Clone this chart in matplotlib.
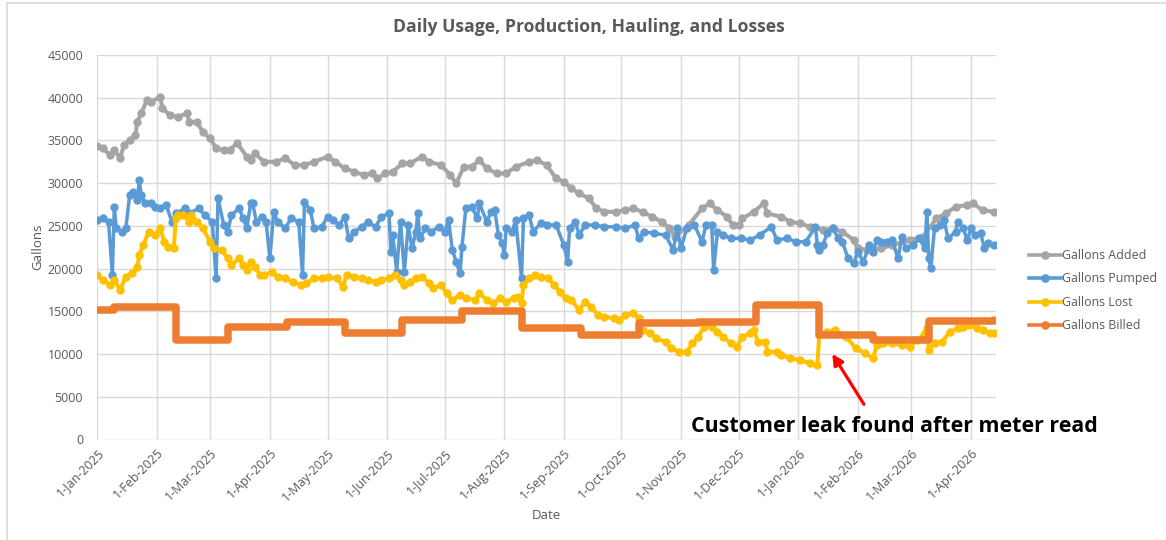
import numpy as np
import matplotlib
matplotlib.use("Agg")
import matplotlib.pyplot as plt
import matplotlib.dates as mdates
from matplotlib.ticker import FuncFormatter, MultipleLocator
from matplotlib.lines import Line2D

plt.rcParams['font.family'] = ['Open Sans', 'DejaVu Sans']

START = np.datetime64('2025-01-01')

# ---- data (day offset from 1-Jan-2025, gallons) ----
added_days = [0, 3, 7, 9, 12, 14, 17, 20, 21, 23, 26, 28, 33, 34, 38, 42, 47, 48, 52, 55, 59, 62, 66, 69,
              73, 78, 80, 82, 87, 93, 98, 103, 108, 113, 120, 124, 129, 134, 139, 143, 146, 150, 154, 159,
              163, 169, 173, 179, 184, 187, 191, 195, 199, 203, 208, 213, 218, 225, 229, 234, 239, 243, 247,
              251, 256, 260, 264, 270, 275, 279, 284, 289, 294, 298, 301, 308, 315, 319, 323, 328, 331, 334,
              336, 342, 347, 349, 356, 361, 366, 371, 378, 383, 388, 394, 396, 401, 408, 414, 423, 430, 437,
              442, 447, 453, 456, 461, 467]
added_vals = [34400, 34070, 33290, 33870, 32900, 34460, 35040, 35620, 37180, 38170, 39720, 39520, 40100, 38750,
              37970, 37770, 38170, 37180, 37180, 36010, 35240, 34070, 33870, 33870, 34690, 33090, 32700, 33500,
              32500, 32500, 32900, 32120, 32120, 32500, 33090, 32500, 31730, 31340, 30950, 31140, 30560, 31140,
              31340, 32310, 32310, 33090, 32500, 32120, 30950, 29980, 31920, 31920, 32700, 31730, 31140, 31140,
              31920, 32500, 32700, 32120, 30560, 30160, 29390, 28800, 28220, 27050, 26650, 26650, 26850, 27050,
              26650, 26070, 25480, 24710, 23730, 25100, 27050, 27630, 26850, 26070, 25100, 25100, 25880, 26650,
              27630, 26460, 26070, 25480, 25300, 24900, 24510, 24710, 24320, 23340, 22370, 22200, 22370, 22750,
              23340, 23730, 25880, 26460, 27240, 27440, 27630, 26850, 26650]

pumped_days = [0, 3, 6, 8, 9, 10, 13, 15, 17, 19, 21, 22, 23, 25, 28, 30, 33, 36, 39, 41, 46, 48, 53, 56, 60,
               62, 63, 66, 68, 70, 74, 76, 78, 80, 81, 83, 86, 88, 90, 92, 94, 98, 101, 105, 107, 108, 111, 113,
               117, 120, 123, 126, 129, 131, 134, 138, 141, 145, 148, 152, 153, 154, 156, 158, 160, 162, 164,
               166, 167, 168, 171, 174, 178, 181, 183, 185, 187, 189, 190, 192, 195, 198, 199, 203, 205, 207,
               209, 211, 212, 213, 216, 218, 221, 222, 225, 227, 231, 234, 239, 243, 245, 246, 249, 251, 254,
               259, 264, 270, 275, 280, 282, 285, 290, 296, 300, 302, 304, 307, 311, 315, 317, 320, 321, 323,
               326, 330, 335, 340, 345, 351, 354, 359, 364, 369, 374, 375, 376, 378, 380, 383, 386, 388, 391,
               394, 396, 399, 402, 404, 406, 408, 411, 414, 417, 419, 421, 425, 428, 431, 432, 433, 434, 436,
               439, 441, 443, 447, 448, 451, 453, 455, 457, 460, 462, 464, 467]
pumped_vals = [25680, 25880, 25480, 19250, 27240, 24710, 24320, 24710, 28600, 28990, 28020, 30360, 28600, 27630,
               27630, 27240, 27050, 27440, 25480, 26460, 27050, 26460, 27050, 26270, 25480, 18860, 28220, 25100,
               24320, 26270, 27050, 25880, 24710, 27630, 27630, 25480, 26070, 25480, 21200, 26650, 25480, 24710,
               25880, 25480, 19250, 27820, 26850, 24710, 24900, 26070, 25680, 25100, 26070, 23540, 24320, 24900,
               25480, 24900, 26070, 26460, 21970, 23930, 19630, 25480, 19630, 25100, 22370, 24320, 26460, 23540,
               24710, 24320, 24900, 24320, 25680, 22170, 20800, 19440, 22560, 27050, 27240, 25880, 27630, 25480,
               26650, 26850, 23930, 22950, 21580, 24710, 24320, 25680, 18860, 25880, 26270, 24320, 25300, 25100,
               25100, 22760, 20800, 24710, 25480, 23930, 25100, 25100, 24900, 24900, 24710, 25100, 23540, 24320,
               24120, 23930, 22170, 24710, 22370, 24710, 25100, 23140, 25100, 25100, 19830, 24320, 23930, 23540,
               23540, 23340, 23930, 24900, 23340, 23540, 23140, 23140, 24900, 22760, 22170, 22760, 24120, 24710,
               23540, 23140, 21200, 20620, 21970, 20800, 22760, 21970, 23340, 23140, 23140, 23340, 21200, 23730,
               22370, 22760, 23540, 22370, 26650, 21200, 20030, 24710, 25100, 25680, 23540, 24320, 25480, 24710,
               23340, 24710, 23930, 24120, 22370, 22950, 22760]

lost_days = [0, 3, 7, 9, 12, 15, 18, 21, 22, 24, 27, 30, 33, 35, 37, 40, 41, 42, 45, 48, 49, 52, 55, 59, 61,
             65, 68, 70, 74, 76, 78, 80, 82, 85, 87, 91, 94, 98, 102, 106, 109, 113, 117, 120, 125, 128, 130,
             134, 138, 141, 145, 148, 152, 155, 158, 160, 163, 166, 169, 173, 175, 179, 182, 185, 189, 192, 197,
             199, 203, 206, 210, 213, 217, 219, 221, 222, 225, 228, 231, 235, 238, 241, 244, 247, 251, 254, 257,
             261, 264, 269, 272, 275, 279, 282, 284, 288, 291, 296, 299, 303, 307, 310, 313, 316, 320, 323, 326,
             330, 333, 336, 340, 342, 344, 348, 349, 354, 356, 361, 366, 371, 375, 376, 380, 384, 390, 395, 400,
             404, 406, 409, 414, 419, 423, 427, 431, 432, 433, 436, 440, 444, 448, 451, 454, 458, 461, 465, 467]
lost_vals = [19250, 18660, 18080, 18660, 17490, 19050, 19440, 20220, 21580, 22760, 24320, 23930, 24710, 23140,
             22560, 22370, 25880, 26270, 26270, 25480, 26270, 25480, 24710, 23140, 22370, 22170, 21200, 20420,
             21200, 20420, 19830, 20800, 20220, 19250, 19250, 19630, 19050, 18860, 18460, 18080, 18280, 18860,
             18860, 19050, 18860, 17880, 19250, 19050, 18860, 18660, 18460, 18660, 18860, 19250, 18700, 18080,
             18460, 18860, 19050, 18280, 17690, 18080, 17110, 16320, 16910, 16520, 16320, 17110, 16320, 15940,
             16520, 16120, 16520, 16710, 15940, 18080, 18860, 19250, 19050, 18860, 18080, 17290, 16520, 16320,
             15150, 16120, 15540, 14570, 14370, 14180, 13980, 14570, 14760, 14180, 12810, 12430, 11840, 11440,
             10670, 10270, 10270, 11260, 12030, 13200, 13200, 12620, 12030, 11260, 10860, 12030, 12430, 12810,
             11440, 11440, 10270, 10270, 9890, 9500, 9300, 8920, 8720, 12230, 12610, 12810, 12030, 10670, 10090,
             9500, 11060, 11260, 11260, 11060, 10860, 11640, 12430, 13010, 10470, 11260, 11440, 12610, 13010,
             13200, 13400, 13010, 12810, 12430, 12430]

billed_days = [0, 9, 41, 68, 99, 129, 159, 190, 221, 252, 282, 313, 343, 376, 404, 433, 467]
billed_vals = [15150, 15540, 11640, 13200, 13780, 12430, 13980, 15040, 13080, 12230, 13590, 13710, 15740,
               12230, 11640, 13900, 13950]

series_names = ["Gallons Added", "Gallons Pumped", "Gallons Lost", "Gallons Billed"]
colors = ["#A5A5A5", "#5B9BD5", "#FFC000", "#ED7D31"]

title = "Daily Usage, Production, Hauling, and Losses"
note = "Customer leak found after meter read"


def to_dates(days):
    return START + np.array(days, dtype='timedelta64[D]')


W, H = 1166, 540
fig = plt.figure(figsize=(W / 100, H / 100), dpi=100)
ax = fig.add_axes([97 / W, 1 - 439.5 / H, (996 - 97) / W, (439.5 - 55) / H])

grid_c = "#D9D9D9"
text_c = "#595959"

ms, lw = 5.0, 2.9
ax.plot(to_dates(added_days), added_vals, color=colors[0], lw=lw, marker='o', ms=ms, zorder=3)
ax.plot(to_dates(pumped_days), pumped_vals, color=colors[1], lw=lw - 0.4, marker='o', ms=ms, zorder=4)
ax.plot(to_dates(lost_days), lost_vals, color=colors[2], lw=lw, marker='o', ms=ms, zorder=5)
ax.plot(to_dates(billed_days), billed_vals, color=colors[3], lw=5.4, drawstyle='steps-post',
        solid_capstyle='round', solid_joinstyle='round', zorder=6)

ax.set_xlim(START, START + np.timedelta64(468, 'D'))
ax.set_ylim(0, 45000)
ax.yaxis.set_major_locator(MultipleLocator(5000))
ax.xaxis.set_major_locator(mdates.MonthLocator(bymonthday=1))
ax.xaxis.set_major_formatter(FuncFormatter(
    lambda v, p: (lambda d: f"{d.day}-{d.strftime('%b-%Y')}")(mdates.num2date(v))))

ax.grid(True, color=grid_c, lw=1.0)
ax.set_axisbelow(True)
for s in ax.spines.values():
    s.set_visible(False)
ax.tick_params(axis='both', length=0, colors=text_c, labelsize=9)
ax.tick_params(axis='y', pad=10)
ax.tick_params(axis='x', pad=5)
for lab in ax.get_xticklabels():
    lab.set_rotation(45)
    lab.set_ha('right')
    lab.set_rotation_mode('anchor')

ax.set_ylabel("Gallons", color=text_c, fontsize=9.5, labelpad=2)
ax.set_xlabel("Date", color=text_c, fontsize=9.5, labelpad=4)

fig.text(589 / W, 1 - 27 / H, title, ha='center', va='center', fontsize=12.7, fontweight='bold', color=text_c)

# legend
handles = [Line2D([0], [0], color=c, lw=2.6, marker='o', ms=5.2) for c in colors]
leg = fig.legend(handles, series_names, loc='upper left', bbox_to_anchor=(1024 / W, 1 - 244 / H),
                 frameon=False, fontsize=8.9, handlelength=2.6, handletextpad=0.1, labelspacing=0.85,
                 borderaxespad=0)
for t in leg.get_texts():
    t.set_color(text_c)

# annotation
ax.annotate("", xy=(START + np.timedelta64(382, 'D'), 10300), xytext=(START + np.timedelta64(400, 'D'), 3850),
            arrowprops=dict(arrowstyle='-|>', color='#FF0000', lw=2.3, mutation_scale=16), zorder=7,
            annotation_clip=False)
fig.text(894 / W, 1 - 426 / H, note, ha='center', va='center', fontsize=15.4, fontweight='bold', color='black')

# chart border (left and top visible)
fig.add_artist(Line2D([7 / W, 7 / W], [0, 1 - 3 / H], color=grid_c, lw=1.2, transform=fig.transFigure))
fig.add_artist(Line2D([7 / W, 1], [1 - 3 / H, 1 - 3 / H], color=grid_c, lw=1.2, transform=fig.transFigure))

fig.savefig("out.png", dpi=100, facecolor='white')
